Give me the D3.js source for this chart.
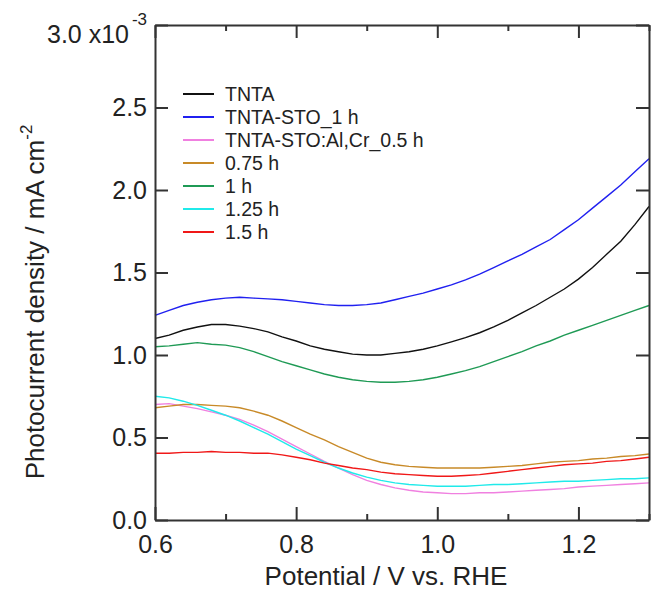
<!DOCTYPE html>
<html>
<head>
<meta charset="utf-8">
<script src="https://cdn.jsdelivr.net/npm/d3@7"></script>
<style>
  body { margin: 0; background: #fff; }
  svg { display: block; }
  text { font-family: "Liberation Sans", Arial, sans-serif; fill: #222; }
</style>
</head>
<body>
<svg id="chart"></svg>
<script>
// potential (V vs. RHE)
const potential = [0.60, 0.62, 0.64, 0.66, 0.68, 0.70, 0.72, 0.74, 0.76, 0.78, 0.80, 0.82,
  0.84, 0.86, 0.88, 0.90, 0.92, 0.94, 0.96, 0.98, 1.00, 1.02, 1.04, 1.06,
  1.08, 1.10, 1.12, 1.14, 1.16, 1.18, 1.20, 1.22, 1.24, 1.26, 1.28, 1.30];

// photocurrent density (x10^-3 mA cm^-2)
const tnta = [1.10, 1.12, 1.15, 1.17, 1.185, 1.185, 1.175, 1.16, 1.14, 1.11, 1.085, 1.055,
  1.035, 1.02, 1.005, 1.00, 1.00, 1.01, 1.02, 1.035, 1.055, 1.08, 1.105, 1.135,
  1.17, 1.21, 1.255, 1.30, 1.35, 1.40, 1.46, 1.53, 1.61, 1.69, 1.79, 1.90];
const sto1h = [1.24, 1.27, 1.30, 1.32, 1.335, 1.345, 1.35, 1.345, 1.34, 1.335, 1.325, 1.315,
  1.305, 1.30, 1.30, 1.305, 1.315, 1.335, 1.355, 1.375, 1.40, 1.425, 1.455, 1.49,
  1.53, 1.57, 1.61, 1.655, 1.70, 1.76, 1.82, 1.89, 1.96, 2.03, 2.11, 2.19];
const alcr05 = [0.70, 0.705, 0.69, 0.675, 0.655, 0.635, 0.61, 0.575, 0.535, 0.49, 0.445, 0.40,
  0.355, 0.315, 0.275, 0.24, 0.215, 0.195, 0.18, 0.17, 0.165, 0.16, 0.16, 0.165,
  0.165, 0.17, 0.175, 0.18, 0.185, 0.19, 0.20, 0.205, 0.21, 0.215, 0.22, 0.225];
const alcr075 = [0.68, 0.69, 0.70, 0.70, 0.695, 0.69, 0.68, 0.66, 0.635, 0.60, 0.56, 0.52,
  0.485, 0.445, 0.41, 0.375, 0.35, 0.335, 0.325, 0.32, 0.315, 0.315, 0.315, 0.315,
  0.32, 0.325, 0.33, 0.34, 0.35, 0.355, 0.36, 0.37, 0.375, 0.385, 0.39, 0.40];
const alcr1 = [1.05, 1.055, 1.065, 1.075, 1.065, 1.06, 1.045, 1.02, 0.99, 0.96, 0.935, 0.91,
  0.885, 0.865, 0.85, 0.84, 0.835, 0.835, 0.84, 0.85, 0.865, 0.885, 0.905, 0.93,
  0.96, 0.99, 1.02, 1.055, 1.085, 1.12, 1.15, 1.18, 1.21, 1.24, 1.27, 1.30];
const alcr125 = [0.75, 0.74, 0.72, 0.695, 0.665, 0.635, 0.60, 0.56, 0.52, 0.475, 0.43, 0.39,
  0.35, 0.315, 0.285, 0.26, 0.24, 0.225, 0.215, 0.21, 0.205, 0.205, 0.205, 0.21,
  0.215, 0.215, 0.22, 0.225, 0.23, 0.235, 0.235, 0.24, 0.245, 0.25, 0.25, 0.255];
const alcr15 = [0.405, 0.405, 0.41, 0.41, 0.415, 0.41, 0.41, 0.405, 0.405, 0.395, 0.38, 0.365,
  0.345, 0.33, 0.315, 0.305, 0.29, 0.28, 0.275, 0.27, 0.265, 0.265, 0.27, 0.275,
  0.285, 0.295, 0.305, 0.315, 0.325, 0.335, 0.34, 0.345, 0.355, 0.36, 0.37, 0.38];

const seriesNames = ["TNTA", "TNTA-STO_1 h", "TNTA-STO:Al,Cr_0.5 h", "0.75 h", "1 h", "1.25 h", "1.5 h"];
const seriesValues = [tnta, sto1h, alcr05, alcr075, alcr1, alcr125, alcr15];
const seriesColors = ["#111111", "#2020f0", "#f080e0", "#c88a28", "#1f9a55", "#20eaea", "#f01818"];

const xMajor = [0.6, 0.8, 1.0, 1.2];
const xMinor = [0.7, 0.9, 1.1, 1.3];
const yMajor = [0, 0.5, 1.0, 1.5, 2.0, 2.5, 3.0];

const svgWidth = 651, svgHeight = 592;
const margin = { top: 25, right: 2, bottom: 72, left: 155 };
const width = svgWidth - margin.left - margin.right;
const height = svgHeight - margin.top - margin.bottom;

const svg = d3.select("#chart").attr("width", svgWidth).attr("height", svgHeight);
const g = svg.append("g").attr("transform", `translate(${margin.left},${margin.top})`);

const x = d3.scaleLinear().domain([0.6, 1.3]).range([0, width]);
const y = d3.scaleLinear().domain([0, 3]).range([height, 0]);

// Lines
const line = d3.line().x((d, i) => x(potential[i])).y(d => y(d));
seriesValues.forEach((vals, k) => {
  g.append("path").datum(vals)
    .attr("fill", "none")
    .attr("stroke", seriesColors[k])
    .attr("stroke-width", 1.4)
    .attr("d", line);
});

// Axes (ticks inward, mirrored)
const axisColor = "#333";
function styleAxis(sel) {
  sel.selectAll("path.domain").attr("stroke", axisColor).attr("stroke-width", 2);
  sel.selectAll(".tick line").attr("stroke", axisColor).attr("stroke-width", 2);
  sel.selectAll(".tick text").attr("fill", "#222")
    .style("font-size", "25px").style("font-family", "'Liberation Sans', Arial, sans-serif");
}

const xb = g.append("g").attr("transform", `translate(0,${height})`)
  .call(d3.axisBottom(x).tickValues(xMajor).tickSize(-13).tickSizeOuter(0).tickPadding(15)
    .tickFormat(d3.format(".1f")));
styleAxis(xb);
const xbMinor = g.append("g").attr("transform", `translate(0,${height})`)
  .call(d3.axisBottom(x).tickValues(xMinor).tickSize(-6).tickFormat(""));
xbMinor.select(".domain").remove();
styleAxis(xbMinor);

const xt = g.append("g")
  .call(d3.axisTop(x).tickValues(xMajor).tickSize(-13).tickSizeOuter(0).tickFormat(""));
styleAxis(xt);
const xtMinor = g.append("g")
  .call(d3.axisTop(x).tickValues(xMinor).tickSize(-6).tickFormat(""));
xtMinor.select(".domain").remove();
styleAxis(xtMinor);

const yl = g.append("g")
  .call(d3.axisLeft(y).tickValues(yMajor).tickSize(-13).tickSizeOuter(0).tickPadding(8)
    .tickFormat(d => d === 3 ? "" : d3.format(".1f")(d)));
styleAxis(yl);

const yr = g.append("g").attr("transform", `translate(${width},0)`)
  .call(d3.axisRight(y).tickValues(yMajor).tickSize(-13).tickSizeOuter(0).tickFormat(""));
styleAxis(yr);

// top label with exponent
g.append("text")
  .attr("x", -26).attr("y", 18)
  .attr("text-anchor", "end")
  .style("font-size", "25px")
  .text("3.0 x10");
g.append("text")
  .attr("x", -8).attr("y", 0)
  .attr("text-anchor", "end")
  .style("font-size", "17px")
  .text("-3");

// Axis titles
svg.append("text")
  .attr("x", 386)
  .attr("y", 585)
  .attr("text-anchor", "middle")
  .style("font-size", "26px")
  .text("Potential / V vs. RHE");

const yTitle = svg.append("text")
  .attr("transform", "translate(44,302) rotate(-90)")
  .attr("text-anchor", "middle")
  .style("font-size", "26px");
yTitle.append("tspan").text("Photocurrent density / mA cm");
yTitle.append("tspan").attr("dy", -12).style("font-size", "17px").text("-2");

// Legend
const legend = svg.append("g").attr("transform", "translate(183,94)");
seriesNames.forEach((name, k) => {
  const row = legend.append("g").attr("transform", `translate(0,${k * 23})`);
  row.append("line")
    .attr("x1", 0).attr("x2", 31).attr("y1", 0).attr("y2", 0)
    .attr("stroke", seriesColors[k]).attr("stroke-width", 2);
  row.append("text")
    .attr("x", 42).attr("y", 7)
    .style("font-size", "19.5px")
    .text(name);
});
</script>
</body>
</html>
